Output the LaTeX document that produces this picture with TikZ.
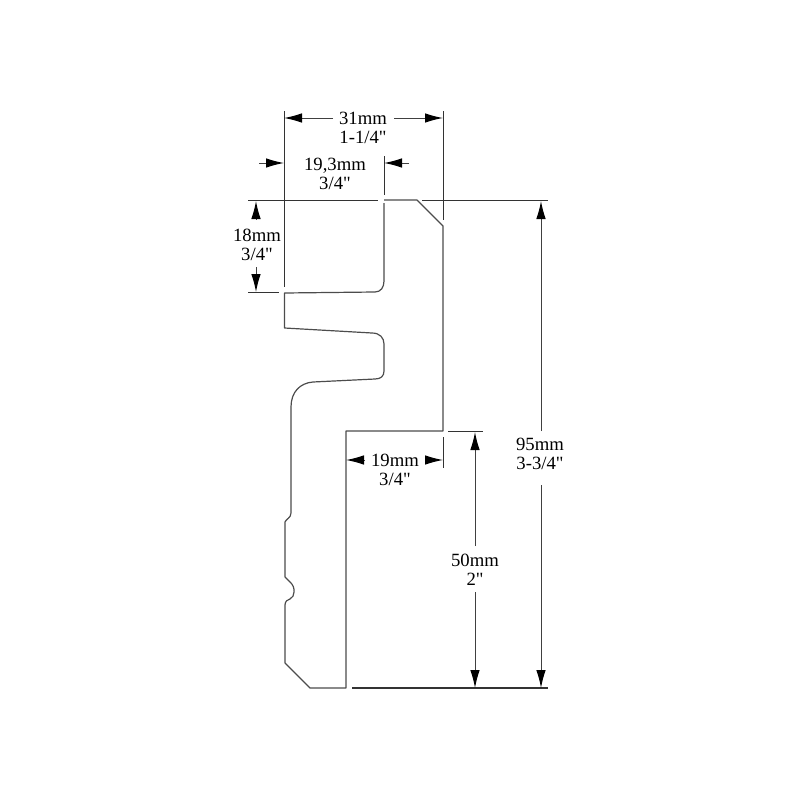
\documentclass[tikz,border=0pt]{standalone}
\usepackage{fontspec}
\newfontfamily\dimfont{Liberation Serif}
\usetikzlibrary{arrows.meta}

\tikzset{
    profileline/.style={line width=1.2pt, draw=black!70},
    extline/.style={line width=1pt, draw=black!80},
    dimline/.style={line width=1pt, draw=black!75, -{Latex[length=18pt,width=9.5pt,black]}},
    dimlabel/.style={align=center, inner sep=0pt, font=\dimfont\fontsize{18.7}{19}\selectfont}
}

\begin{document}
\begin{tikzpicture}[x=1pt,y=-1pt]
    \useasboundingbox (0,0) rectangle (800,800);

%extension lines
    \coordinate (E1a) at (248, 200);
    \coordinate (E1b) at (378, 200);
    \coordinate (E2a) at (422, 200);
    \coordinate (E2b) at (548, 200);
    \coordinate (E3a) at (284, 111);
    \coordinate (E3b) at (284, 287);
    \coordinate (E4a) at (443, 111);
    \coordinate (E4b) at (443, 220);
    \coordinate (E5a) at (384, 156);
    \coordinate (E5b) at (384, 195);
    \coordinate (E6a) at (248, 292);
    \coordinate (E6b) at (279, 292);
    \coordinate (E7a) at (448, 431);
    \coordinate (E7b) at (483, 431);
    \coordinate (E8a) at (443, 437);
    \coordinate (E8b) at (443, 468);
    \coordinate (E9a) at (352, 688);
    \coordinate (E9b) at (548, 688);

    \draw[extline] (E1a) -- (E1b);
    \draw[extline] (E2a) -- (E2b);
    \draw[extline] (E3a) -- (E3b);
    \draw[extline] (E4a) -- (E4b);
    \draw[extline] (E5a) -- (E5b);
    \draw[extline] (E6a) -- (E6b);
    \draw[extline] (E7a) -- (E7b);
    \draw[extline] (E8a) -- (E8b);
    \draw[extline, line width=1.6pt] (E9a) -- (E9b);

%profile
    \draw[profileline, line join=round] (384, 200) -- (417, 200) -- (443, 226) -- (443, 431) -- (346, 431)
        -- (346, 688) -- (310, 688) -- (285, 663) -- (285, 605)
        .. controls (285, 601) and (288, 599.5) .. (290, 599)
        .. controls (295, 597) and (296, 587) .. (290, 582)
        -- (285, 577) -- (285, 522)
        .. controls (286, 519) and (291, 518) .. (291, 513)
        -- (291, 407)
        .. controls (291, 392) and (300, 383) .. (313, 382)
        -- (375, 379)
        .. controls (381, 379) and (384, 376) .. (384, 371)
        -- (384, 344)
        .. controls (384, 338) and (380, 333) .. (372, 333)
        -- (284.5, 328) -- (284.5, 293) -- (375, 292)
        .. controls (381, 292) and (384, 287) .. (384, 281)
        -- (384, 203);

%dimensions
    \coordinate (T31a) at (333, 118);
    \coordinate (T31b) at (284, 118);
    \coordinate (T31c) at (394, 118);
    \coordinate (T31d) at (443, 118);
    \coordinate (T19a) at (259, 163);
    \coordinate (T19b) at (284, 163);
    \coordinate (T19c) at (409, 163);
    \coordinate (T19d) at (384, 163);
    \coordinate (S18a) at (256, 219);
    \coordinate (S18b) at (256, 201);
    \coordinate (S18c) at (256, 267);
    \coordinate (S18d) at (256, 292);
    \coordinate (L19a) at (365, 460);
    \coordinate (L19b) at (346, 460);
    \coordinate (L19c) at (425, 460);
    \coordinate (L19d) at (443, 460);
    \coordinate (H50a) at (475, 546);
    \coordinate (H50b) at (475, 432);
    \coordinate (H50c) at (475, 592);
    \coordinate (H50d) at (475, 688);
    \coordinate (H95a) at (541, 431);
    \coordinate (H95b) at (541, 201);
    \coordinate (H95c) at (541, 485);
    \coordinate (H95d) at (541, 688);

    \draw[dimline] (T31a) -- (T31b);
    \draw[dimline] (T31c) -- (T31d);
    \draw[dimline] (T19a) -- (T19b);
    \draw[dimline] (T19c) -- (T19d);
    \draw[dimline] (S18a) -- (S18b);
    \draw[dimline] (S18c) -- (S18d);
    \draw[dimline] (L19a) -- (L19b);
    \draw[dimline] (L19c) -- (L19d);
    \draw[dimline] (H50a) -- (H50b);
    \draw[dimline] (H50c) -- (H50d);
    \draw[dimline] (H95a) -- (H95b);
    \draw[dimline] (H95c) -- (H95d);

%labels
    \node (lab31) at (363, 128) [dimlabel] {31mm\\1-1/4"};
    \node (lab193) at (335, 174) [dimlabel] {19,3mm\\3/4"};
    \node (lab18) at (257, 245) [dimlabel] {18mm\\3/4"};
    \node (lab19) at (395, 470) [dimlabel] {19mm\\3/4"};
    \node (lab50) at (475, 570) [dimlabel] {50mm\\2"};
    \node (lab95) at (540, 454) [dimlabel] {95mm\\3-3/4"};

\end{tikzpicture}
\end{document}
